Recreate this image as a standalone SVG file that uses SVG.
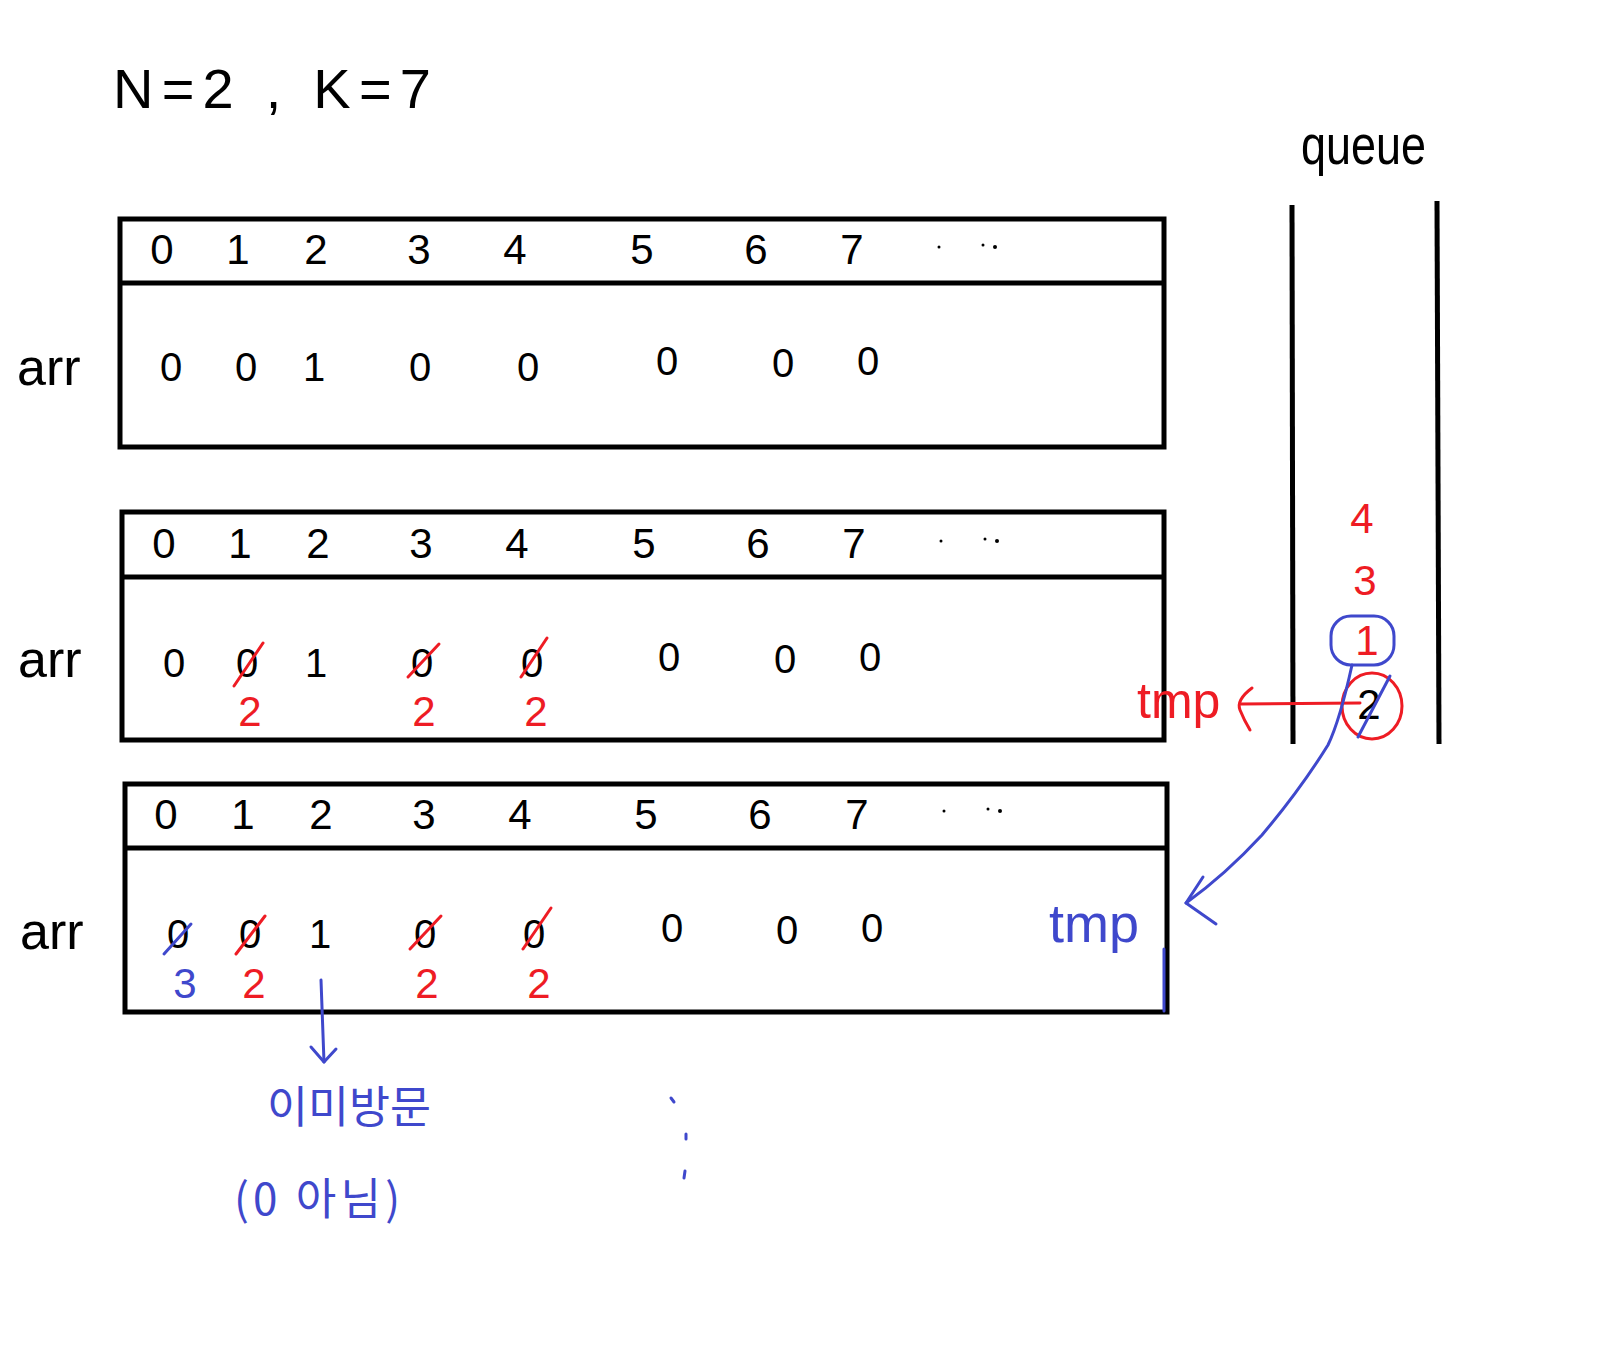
<svg xmlns="http://www.w3.org/2000/svg" width="1609" height="1350" viewBox="0 0 1609 1350">
<defs>
<style>
text{font-family:"Liberation Sans","Noto Sans CJK KR",sans-serif;}
.t{font-size:56px;fill:#000;}
.h{font-size:42px;fill:#000;text-anchor:middle;}
.v{font-size:40px;fill:#000;text-anchor:middle;}
.r{font-size:42px;fill:#ee1c24;text-anchor:middle;}
.b{font-size:42px;fill:#3f48cc;text-anchor:middle;}
.lbl{font-size:52px;fill:#000;}
.box{fill:none;stroke:#000;stroke-width:5;}
.sep{stroke:#000;stroke-width:5;}
.ql{stroke:#000;stroke-width:5;}
.rs{stroke:#ee1c24;stroke-width:3;fill:none;stroke-linecap:round;}
.bs{stroke:#3f48cc;stroke-width:3;fill:none;stroke-linecap:round;stroke-linejoin:round;}
.dot{fill:#000;}
.kr{font-family:"Noto Sans CJK KR",sans-serif;font-size:44px;fill:#3f48cc;}
</style>
</defs>
<rect width="1609" height="1350" fill="#fff"/>

<g id="title"><text class="t" x="113" y="108" textLength="318" lengthAdjust="spacing">N=2 , K=7</text></g>

<g id="queue">
<text x="1301" y="164" style="font-size:56px;fill:#000" textLength="125" lengthAdjust="spacingAndGlyphs">queue</text>
<line class="ql" x1="1292" y1="205" x2="1293" y2="744"/>
<line class="ql" x1="1437" y1="201" x2="1439" y2="744"/>
<text class="r" x="1362" y="533">4</text>
<text class="r" x="1365" y="595">3</text>
<rect x="1331" y="616" width="63" height="49" rx="20" class="bs"/>
<text class="r" x="1367" y="655">1</text>
<text class="h" x="1369" y="719">2</text>
<ellipse cx="1372" cy="706" rx="30" ry="33" class="rs"/>
<line class="bs" x1="1358" y1="737" x2="1390" y2="676"/>
</g>

<g id="array1">
<text class="lbl" x="17" y="385">arr</text>
<rect class="box" x="120" y="219" width="1044" height="228"/>
<line class="sep" x1="120" y1="283" x2="1164" y2="283"/>
<text class="h" x="162" y="264">0</text><text class="h" x="238" y="264">1</text><text class="h" x="316" y="264">2</text><text class="h" x="419" y="264">3</text><text class="h" x="515" y="264">4</text><text class="h" x="642" y="264">5</text><text class="h" x="756" y="264">6</text><text class="h" x="852" y="264">7</text>
<circle class="dot" cx="939" cy="247" r="1.5"/><circle class="dot" cx="983" cy="245" r="1.5"/><circle class="dot" cx="995" cy="247" r="2"/>
<text class="v" x="171" y="381">0</text><text class="v" x="246" y="381">0</text><text class="v" x="314" y="381">1</text><text class="v" x="420" y="381">0</text><text class="v" x="528" y="381">0</text><text class="v" x="667" y="375">0</text><text class="v" x="783" y="377">0</text><text class="v" x="868" y="375">0</text>
</g>

<g id="array2">
<text class="lbl" x="18" y="677">arr</text>
<rect class="box" x="122" y="512" width="1042" height="228"/>
<line class="sep" x1="122" y1="577" x2="1164" y2="577"/>
<text class="h" x="164" y="558">0</text><text class="h" x="240" y="558">1</text><text class="h" x="318" y="558">2</text><text class="h" x="421" y="558">3</text><text class="h" x="517" y="558">4</text><text class="h" x="644" y="558">5</text><text class="h" x="758" y="558">6</text><text class="h" x="854" y="558">7</text>
<circle class="dot" cx="941" cy="541" r="1.5"/><circle class="dot" cx="985" cy="539" r="1.5"/><circle class="dot" cx="997" cy="541" r="2"/>
<text class="v" x="174" y="677">0</text><text class="v" x="247" y="677">0</text><text class="v" x="316" y="677">1</text><text class="v" x="422" y="677">0</text><text class="v" x="532" y="677">0</text><text class="v" x="669" y="671">0</text><text class="v" x="785" y="673">0</text><text class="v" x="870" y="671">0</text>
<line class="rs" x1="234" y1="686" x2="263" y2="643"/>
<line class="rs" x1="408" y1="677" x2="439" y2="644"/>
<line class="rs" x1="521" y1="677" x2="547" y2="638"/>
<text class="r" x="250" y="726">2</text><text class="r" x="424" y="726">2</text><text class="r" x="536" y="726">2</text>
</g>

<g id="array3">
<text class="lbl" x="20" y="949">arr</text>
<rect class="box" x="125" y="784" width="1042" height="228"/>
<line class="sep" x1="125" y1="848" x2="1167" y2="848"/>
<text class="h" x="166" y="829">0</text><text class="h" x="243" y="829">1</text><text class="h" x="321" y="829">2</text><text class="h" x="424" y="829">3</text><text class="h" x="520" y="829">4</text><text class="h" x="646" y="829">5</text><text class="h" x="760" y="829">6</text><text class="h" x="857" y="829">7</text>
<circle class="dot" cx="944" cy="811" r="1.5"/><circle class="dot" cx="988" cy="809" r="1.5"/><circle class="dot" cx="1000" cy="811" r="2"/>
<text class="v" x="178" y="948">0</text><text class="v" x="250" y="948">0</text><text class="v" x="320" y="948">1</text><text class="v" x="425" y="948">0</text><text class="v" x="534" y="948">0</text><text class="v" x="672" y="942">0</text><text class="v" x="787" y="944">0</text><text class="v" x="872" y="942">0</text>
<line class="bs" x1="164" y1="954" x2="191" y2="924"/>
<line class="rs" x1="236" y1="954" x2="265" y2="916"/>
<line class="rs" x1="410" y1="949" x2="441" y2="916"/>
<line class="rs" x1="523" y1="949" x2="551" y2="908"/>
<text class="b" x="185" y="998">3</text>
<text class="r" x="254" y="998">2</text><text class="r" x="427" y="998">2</text><text class="r" x="539" y="998">2</text>
<line class="bs" x1="1164" y1="949" x2="1164" y2="1011"/>
</g>

<g id="tmp-red"><text x="1137" y="718" style="font-size:50px;fill:#ee1c24">tmp</text></g>
<g id="tmp-blue"><text x="1049" y="942" style="font-size:54px;fill:#3f48cc">tmp</text></g>

<g id="note">
<text class="kr" x="267" y="1123" textLength="164" lengthAdjust="spacingAndGlyphs">이미방문</text>
<text class="kr" x="234" y="1215" textLength="166" lengthAdjust="spacing">(0 아님)</text>
<line class="bs" x1="671" y1="1098" x2="674" y2="1102"/>
<line class="bs" x1="686" y1="1134" x2="686" y2="1139"/>
<line class="bs" x1="685" y1="1171" x2="684" y2="1178"/>
</g>

<g id="connectors">
<path class="rs" d="M1360 703 L1241 704"/>
<path class="rs" d="M1252 688 Q1236 700 1240 710 Q1244 720 1250 730"/>
<path class="bs" d="M1352 665 Q1340 720 1328 745 Q1300 790 1262 835 Q1225 875 1186 903"/>
<path class="bs" d="M1203 877 L1186 903 L1216 924"/>
<path class="bs" d="M321 980 L324 1062"/>
<path class="bs" d="M311 1047 L324 1062 L336 1049"/>
</g>
</svg>
